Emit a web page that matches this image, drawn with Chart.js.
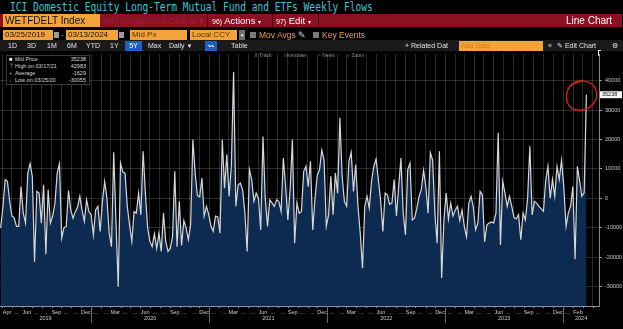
<!DOCTYPE html>
<html>
<head>
<meta charset="utf-8">
<script src="https://cdn.jsdelivr.net/npm/chart.js@4.4.1/dist/chart.umd.min.js"></script>
<style>
  html, body { margin: 0; padding: 0; background: #000; }
  body { width: 623px; height: 329px; position: relative; overflow: hidden; font-family: "Liberation Sans", Arial, sans-serif; }
  .abs { position: absolute; white-space: nowrap; }
  #title { left: 10px; top: 0; color: #3fc4d4; font-family: "DejaVu Sans Mono", monospace; font-size: 12.5px; line-height: 14px; transform: scaleX(0.765); transform-origin: 0 0; }
  .red { background: #8b1022; }
  .orange { background: #f4a23a; }
  .sep { width: 1px; background: #4a0710; }
  .r2 { font-size: 10px; line-height: 13px; top: 14px; height: 13px; color: #fff; }
  .r3 { font-size: 8px; line-height: 10px; top: 30px; height: 10px; }
  .r4 { font-size: 7px; line-height: 10px; top: 41px; height: 10px; color: #e2e2e2; }
  .chk { width: 6px; height: 6px; top: 32px; background: #7b7b7b; }
  .tool { top: 52px; font-size: 5px; line-height: 6px; color: #8c8c8c; }
  .leg { font-size: 5.5px; line-height: 6px; color: #d8d8d8; }
  #c { position: absolute; left: 0; top: 50px; }
</style>
</head>
<body>
<canvas id="c" width="623" height="279"></canvas>

<div id="title" class="abs">ICI Domestic Equity Long-Term Mutual Fund and ETFs Weekly Flows</div>

<!-- security bar -->
<div class="abs red" style="left:0;top:14px;width:622px;height:13px"></div>
<div class="abs orange r2" style="left:3px;width:95px;padding-left:2px;color:#111">WETFDELT Index</div>
<div class="abs r2" style="left:104px;color:#9c2236;font-size:9.5px">94) Suggested Charts ▾</div>
<div class="abs sep" style="left:207px;top:14px;height:13px"></div>
<div class="abs r2" style="left:212px;font-size:9.5px"><span style="font-size:7px">96)</span> Actions <span style="font-size:6px">▾</span></div>
<div class="abs sep" style="left:272px;top:14px;height:13px"></div>
<div class="abs r2" style="left:276px;font-size:9.5px"><span style="font-size:7px">97)</span> Edit <span style="font-size:6px">▾</span></div>
<div class="abs sep" style="left:318px;top:14px;height:13px"></div>
<div class="abs r2" style="left:566px">Line Chart</div>

<!-- date range row -->
<div class="abs orange r3" style="left:3px;width:48px;padding-left:2px;color:#1a1000">03/25/2019</div>
<div class="abs" style="left:54px;top:32px;width:5px;height:6px;background:#9a9a9a"></div>
<div class="abs r3" style="left:61px;color:#bbb">-</div>
<div class="abs orange r3" style="left:66px;width:50px;padding-left:2px;color:#1a1000">03/13/2024</div>
<div class="abs" style="left:119px;top:32px;width:5px;height:6px;background:#9a9a9a"></div>
<div class="abs orange r3" style="left:130px;width:55px;padding-left:2px;color:#5a3300">Mid Px</div>
<div class="abs orange r3" style="left:190px;width:45px;padding-left:2px;color:#5a3300">Local CCY</div>
<div class="abs r3" style="left:239px;width:6px;background:#6d6d6d;color:#fff;font-size:5px;text-align:center">▾</div>
<div class="abs chk" style="left:250px"></div>
<div class="abs r3" style="left:259px;color:#f0a030;font-size:8.5px">Mov Avgs <span style="color:#ddd">✎</span></div>
<div class="abs chk" style="left:313px"></div>
<div class="abs r3" style="left:322px;color:#f0a030;font-size:8.5px">Key Events</div>

<!-- period row -->
<div class="abs" style="left:0;top:40px;width:623px;height:11px;background:#1a1a1a"></div>
<div class="abs r4" style="left:8px">1D</div>
<div class="abs r4" style="left:27px">3D</div>
<div class="abs r4" style="left:47px">1M</div>
<div class="abs r4" style="left:67px">6M</div>
<div class="abs r4" style="left:86px">YTD</div>
<div class="abs r4" style="left:110px">1Y</div>
<div class="abs r4" style="left:125px;width:17px;background:#1f5fc0;text-align:center;color:#fff">5Y</div>
<div class="abs r4" style="left:148px">Max</div>
<div class="abs r4" style="left:169px">Daily <span style="font-size:6px">▼</span></div>
<div class="abs r4" style="left:205px;width:12px;background:#1f5fc0;text-align:center;color:#fff;font-size:6px">〰</div>
<div class="abs r4" style="left:231px">Table</div>
<div class="abs r4" style="left:405px">+ Related Dat</div>
<div class="abs orange r4" style="left:459px;width:82px;padding-left:2px;color:#c9801f">Add Data</div>
<div class="abs r4" style="left:548px">«</div>
<div class="abs r4" style="left:557px">✎ Edit Chart</div>
<div class="abs r4" style="left:612px">⚙</div>

<!-- chart tool strip -->
<div class="abs tool" style="left:254px">⇕ Track</div>
<div class="abs tool" style="left:284px">⁝ Annotate</div>
<div class="abs tool" style="left:319px">▫ News</div>
<div class="abs tool" style="left:347px">⌕ Zoom</div>
<div class="abs" style="left:598px;top:50px;width:1px;height:6px;background:#eee"></div>
<div class="abs" style="left:598px;top:50px;width:3px;height:1px;background:#eee"></div>

<!-- legend -->
<div class="abs" id="legend" style="left:6px;top:55px;width:82px;height:28px;border:1px solid #3a3a3a;background:#000"></div>

<script>
// ICI weekly flows, USD mn, one value per Wednesday from 03/27/2019
const firstWeek = [2019, 3, 27];
const flows = [
  -10100, -3000, 6400, 5800, -1000, -6000, -6700, -9500, -9500, 4000,
  -5000, -8400, 8600, 11800, 7500, -21500, 2400, 1800, -8400, 4600,
  -19000, 3000, -8400, -6000, -1600, 8600, 11800, -13500, -10000, -9500,
  2700, -3900, -6700, -4500, -3000, 700, -4000, -7800, -500, -4400,
  -5500, -12400, -3900, -2700, -11200, -1000, 5800, 0, -11800, -16400,
  15700, -8000, -30055, 12000, 9000, 8600, -2700, -9000, -14600, -4500,
  -5000, 1800, -5600, 16000, 1800, -10000, -14600, -16400, -12000, -17000,
  -11800, -18000, -5000, -14600, -18000, -17000, -13000, 9200, -16400, -1000,
  -16000, -7500, -10000, -14000, -9000, 20000, 8600, 1000, 500, 6900,
  -6000, -2700, -5500, -9500, -11200, -6000, -6300, -11800, 20000, 3500,
  14900, 700, 10900, 42983, -2700, 4500, 5200, 2900, -5000, -18000,
  9800, 6400, -1000, 1800, 0, -10700, 21000, 0, -9500, -500,
  -1500, -2700, -500, -1000, -4400, 13700, 4000, -7300, 3000, 20000,
  -15200, -1600, -5000, -4400, 9200, 10900, 4000, 12600, -10700, 0,
  7800, 9800, 16400, 13000, -9500, -5600, 7500, -5500, 8600, 1800,
  27400, 7500, -1000, -2700, 12600, 15700, 2400, 11500, -2700, -11800,
  -23700, -2700, 700, -3300, 6000, 10900, 13400, 6400, -500, -11200,
  1800, 1200, -2000, -1600, 6400, -6000, 4000, 13700, -5000, -12400,
  9800, 12000, -7300, -6700, -3500, 700, 3000, 9500, 4000, -5000,
  15500, 13000, -5000, -15200, 16000, -27000, -7300, 1800, -7000, -1600,
  -6000, -4000, -2700, -7500, -3900, -9500, -13000, -1600, 700, -3000,
  -10700, -8400, 2400, 1200, -14700, -9000, -8400, -8000, -8400, -5000,
  22300, -15800, 5800, 1800, -2700, 700, -2700, -6500, -7000, -5500,
  -14000, -5000, -7300, 0, 17700, -5600, -1000, -1600, -2700, -3500,
  -4400, 6000, 10900, 0, 6400, 700, 10900, 6400, 13000, 4000,
  -9500, -5000, -2700, 4000, -20700, 10900, 6000, 700, 2000, 35238
];
const statedAverage = -1629;

const rangeStart = [2019, 3, 25];
const rangeEnd = [2024, 4, 21];
const yTicks = [-30000, -20000, -10000, 0, 10000, 20000, 30000, 40000];
const monthNames = ['Jan', 'Feb', 'Mar', 'Apr', 'May', 'Jun', 'Jul', 'Aug', 'Sep', 'Oct', 'Nov', 'Dec'];
const namedMonths = ['Mar', 'Jun', 'Sep', 'Dec'];
const firstLabelMonth = [2019, 4];
const lastLabelMonth = [2024, 2];
const years = [2019, 2020, 2021, 2022, 2023, 2024];

// x values are days counted from the range start date
const DAY = 864e5;
const t0 = Date.UTC(rangeStart[0], rangeStart[1] - 1, rangeStart[2]);
const dayOf = (y, m, d) => (Date.UTC(y, m - 1, d) - t0) / DAY;
const week0 = dayOf(...firstWeek);
const xMax = dayOf(...rangeEnd);

const points = flows.map((v, i) => ({ x: week0 + i * 7, y: v }));

// month starts for the vertical grid
const months = [];
for (let y = 2019; y <= 2024; y++) {
    for (let m = 1; m <= 12; m++) {
        const d = dayOf(y, m, 1);
        if (d >= 0 && d <= xMax) months.push({ y, m, d });
    }
}

function fmtDate(i) {
    const dt = new Date(Date.UTC(firstWeek[0], firstWeek[1] - 1, firstWeek[2]) + i * 7 * DAY);
    const p = n => String(n).padStart(2, '0');
    return p(dt.getUTCMonth() + 1) + '/' + p(dt.getUTCDate()) + '/' + String(dt.getUTCFullYear()).slice(2);
}

// legend rows
const hiIdx = flows.indexOf(Math.max(...flows));
const loIdx = flows.indexOf(Math.min(...flows));
const legendRows = [
    ['■', 'Mid Price', flows[flows.length - 1]],
    ['⊤', 'High on ' + fmtDate(hiIdx), flows[hiIdx]],
    ['+', 'Average', statedAverage],
    ['↓', 'Low on ' + fmtDate(loIdx), flows[loIdx]]
];
legendRows.forEach((r, k) => {
    const top = 56 + k * 7;
    const mk = document.createElement('div');
    mk.className = 'abs leg';
    mk.style.cssText = `left:9px;top:${top}px;color:${k === 0 ? '#fff' : '#aaa'}`;
    mk.textContent = r[0];
    const lb = document.createElement('div');
    lb.className = 'abs leg';
    lb.style.cssText = `left:15px;top:${top}px`;
    lb.textContent = r[1];
    const vl = document.createElement('div');
    vl.className = 'abs leg';
    vl.style.cssText = `right:${623 - 86}px;top:${top}px`;
    vl.textContent = r[2];
    document.body.append(mk, lb, vl);
});

// month / year labels under the plot
const timeAxis = {
    id: 'timeAxis',
    afterDraw(chart) {
        const { ctx, chartArea } = chart;
        const x = chart.scales.x;
        const base = chartArea.bottom;
        ctx.save();
        ctx.font = '5.5px "Liberation Sans"';
        ctx.fillStyle = '#c8c8c8';
        ctx.textAlign = 'center';
        ctx.textBaseline = 'middle';
        const firstKey = firstLabelMonth[0] * 12 + firstLabelMonth[1];
        const lastKey = lastLabelMonth[0] * 12 + lastLabelMonth[1];
        months.forEach(mo => {
            const px = x.getPixelForValue(mo.d);
            ctx.fillStyle = '#8a8a8a';
            ctx.fillRect(Math.round(px), base, 1, 2);
            const key = mo.y * 12 + mo.m;
            if (key < firstKey || key > lastKey) return;
            const name = monthNames[mo.m - 1];
            const text = (key === firstKey || key === lastKey || namedMonths.includes(name)) ? name : '...';
            const mid = x.getPixelForValue(mo.d + 15);
            ctx.fillStyle = '#c8c8c8';
            ctx.fillText(text, mid, base + 6.5);
        });
        years.forEach(yr => {
            const a = Math.max(dayOf(yr, 1, 1), 0);
            const b = Math.min(dayOf(yr + 1, 1, 1), xMax);
            ctx.fillStyle = '#c8c8c8';
            ctx.fillText(String(yr), (x.getPixelForValue(a) + x.getPixelForValue(b)) / 2, base + 12.5);
            if (dayOf(yr, 1, 1) > 0) {
                ctx.fillStyle = '#6a6a6a';
                ctx.fillRect(Math.round(x.getPixelForValue(dayOf(yr, 1, 1))), base, 1, 17);
            }
        });
        ctx.restore();
    }
};

// last value tag on the right axis and the red marker ring round the latest print
const lastTag = {
    id: 'lastTag',
    afterDraw(chart) {
        const { ctx, chartArea } = chart;
        const meta = chart.getDatasetMeta(0);
        const last = meta.data[meta.data.length - 1];
        const px = last.x, py = last.y;
        ctx.save();
        ctx.fillStyle = '#f4f4f4';
        ctx.fillRect(chartArea.right + 1, py - 3.5, 22, 7);
        ctx.fillStyle = '#111';
        ctx.font = '5.5px "Liberation Sans"';
        ctx.textBaseline = 'middle';
        ctx.fillText(String(flows[flows.length - 1]), chartArea.right + 3, py);

        const cx = px - 4.7, cy = py + 0.5;
        ctx.strokeStyle = '#d61d1d';
        ctx.lineWidth = 1.4;
        ctx.beginPath();
        ctx.moveTo(cx - 11, cy - 9);
        ctx.bezierCurveTo(cx - 4, cy - 16, cx + 10, cy - 16, cx + 14, cy - 6);
        ctx.bezierCurveTo(cx + 18, cy + 4, cx + 10, cy + 15, cx - 3, cy + 15);
        ctx.bezierCurveTo(cx - 14, cy + 15, cx - 17, cy + 4, cx - 14, cy - 5);
        ctx.bezierCurveTo(cx - 12, cy - 11, cx - 6, cy - 14, cx + 1, cy - 15);
        ctx.stroke();
        ctx.restore();
    }
};

const gridColor = 'rgba(255,255,255,0.16)';

new Chart(document.getElementById('c'), {
    type: 'line',
    data: {
        datasets: [{
            data: points,
            borderColor: '#d6d6d6',
            borderWidth: 1.2,
            pointRadius: 0,
            tension: 0,
            fill: 'start',
            backgroundColor: '#0d2b50'
        }]
    },
    options: {
        responsive: false,
        animation: false,
        layout: { padding: { top: 4, left: 0, right: 0, bottom: 0 } },
        plugins: { legend: { display: false }, tooltip: { enabled: false } },
        scales: {
            x: {
                type: 'linear',
                min: 0,
                max: xMax,
                z: 1,
                afterBuildTicks: s => { s.ticks = months.map(mo => ({ value: mo.d })); },
                afterFit: s => { s.height = 23; s.paddingLeft = 0; s.paddingRight = 0; },
                ticks: { display: false },
                grid: { color: gridColor, drawTicks: false },
                border: { display: true, color: '#8a95a3' }
            },
            y: {
                position: 'right',
                min: -36560,
                max: 49070,
                z: 1,
                afterBuildTicks: s => { s.ticks = yTicks.map(v => ({ value: v })); },
                afterFit: s => { s.width = 24; s.paddingTop = 0; s.paddingBottom = 0; },
                ticks: {
                    color: '#c8c8c8',
                    font: { size: 5.5, family: 'Liberation Sans' },
                    padding: 3,
                    callback: v => String(v)
                },
                grid: { color: gridColor, tickColor: '#9a9a9a', tickLength: 3 },
                border: { display: true, color: '#8a8a8a' }
            }
        }
    },
    plugins: [timeAxis, lastTag]
});
</script>
</body>
</html>
